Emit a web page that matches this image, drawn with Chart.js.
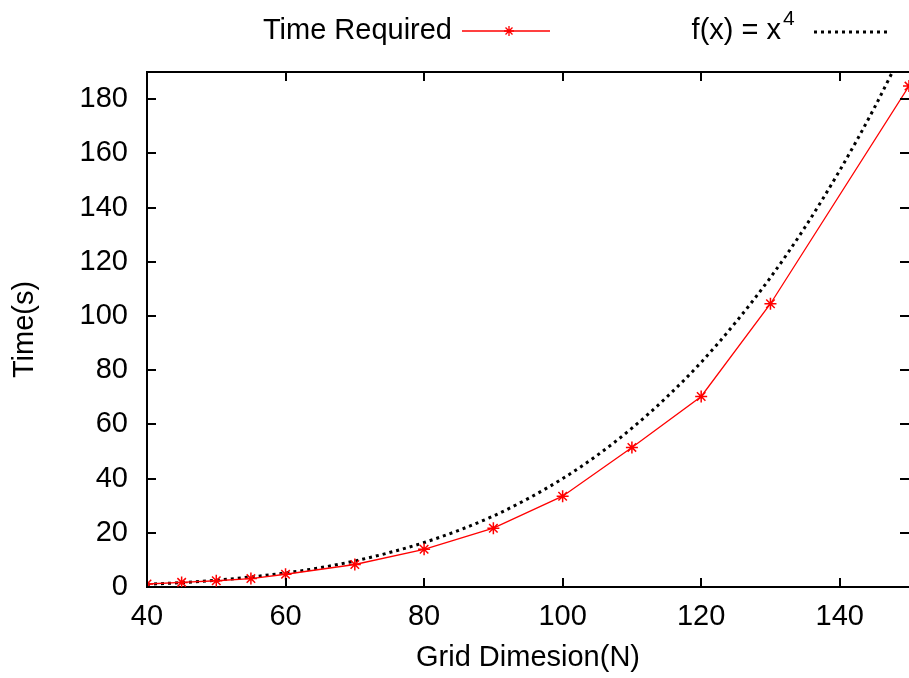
<!DOCTYPE html>
<html lang="en">
<head>
    <meta charset="UTF-8">
    <title>Time Required vs Grid Dimension</title>
    <script src="https://cdn.jsdelivr.net/npm/chart.js"></script>
    <style>
        html, body { margin: 0; padding: 0; background: #fff; }
        #wrap { width: 909px; height: 678px; }
    </style>
</head>
<body>
<div id="wrap"><canvas id="timeChart" width="909" height="678"></canvas></div>
<script>
    // measured run times
    const gridSizes = [40, 45, 50, 55, 60, 70, 80, 90, 100, 110, 120, 130, 150];
    const timeRequired = [1.1, 1.7, 2.3, 3.1, 4.7, 8.3, 13.9, 21.7, 33.5, 51.5, 70.3, 104.5, 184.8];

    // reference curve f(x) = x^4 (scaled)
    const refX = [40, 45, 50, 55, 60, 65, 70, 75, 80, 85, 90, 95, 100, 105, 110, 115, 120, 125, 130, 135, 140, 145, 150];
    const refY = [1.0, 1.6, 2.5, 3.7, 5.2, 7.1, 9.6, 12.7, 16.4, 20.9, 26.2, 32.6, 40.0, 48.6, 58.6, 70.0, 82.9, 97.7, 114.2, 132.8, 153.7, 176.8, 202.5];

    const xTicks = [40, 60, 80, 100, 120, 140];
    const yTicks = [0, 20, 40, 60, 80, 100, 120, 140, 160, 180];

    const FONT = '"Liberation Sans", Arial, Helvetica, sans-serif';
    const FS = 29;

    // gnuplot-like frame: top border plus inward ticks on all sides
    // (the right border itself falls just off the canvas)
    const framePlugin = {
        id: 'frame',
        afterDraw(chart) {
            const ctx = chart.ctx;
            const a = chart.chartArea;
            const xs = chart.scales.x, ys = chart.scales.y;
            const len = 9;
            ctx.save();
            ctx.strokeStyle = '#000';
            ctx.lineWidth = 2;
            ctx.beginPath();
            ctx.moveTo(a.left, a.top); ctx.lineTo(a.right, a.top);
            xTicks.forEach(v => {
                const px = Math.round(xs.getPixelForValue(v));
                ctx.moveTo(px, a.bottom); ctx.lineTo(px, a.bottom - len);
                ctx.moveTo(px, a.top); ctx.lineTo(px, a.top + len);
            });
            yTicks.forEach(v => {
                const py = Math.round(ys.getPixelForValue(v));
                ctx.moveTo(a.left, py); ctx.lineTo(a.left + len, py);
                ctx.moveTo(a.right, py); ctx.lineTo(a.right - len, py);
            });
            ctx.stroke();
            ctx.restore();
        }
    };

    // key drawn gnuplot style: text first, sample after it
    const keyPlugin = {
        id: 'key',
        afterDraw(chart) {
            const ctx = chart.ctx;
            const y = 31;
            ctx.save();
            ctx.fillStyle = '#000';
            ctx.font = FS + 'px ' + FONT;
            ctx.textBaseline = 'middle';
            ctx.textAlign = 'right';
            ctx.fillText('Time Required', 452, y);

            ctx.strokeStyle = '#ff0000';
            ctx.lineWidth = 1.3;
            ctx.beginPath();
            ctx.moveTo(462, y); ctx.lineTo(550, y);
            ctx.stroke();
            const sx = 509, r = 5;
            ctx.beginPath();
            ctx.moveTo(sx - r, y); ctx.lineTo(sx + r, y);
            ctx.moveTo(sx, y - r); ctx.lineTo(sx, y + r);
            ctx.moveTo(sx - r * 0.7, y - r * 0.7); ctx.lineTo(sx + r * 0.7, y + r * 0.7);
            ctx.moveTo(sx - r * 0.7, y + r * 0.7); ctx.lineTo(sx + r * 0.7, y - r * 0.7);
            ctx.stroke();

            ctx.fillStyle = '#000';
            ctx.font = '21px ' + FONT;
            ctx.textAlign = 'left';
            ctx.fillText('4', 783, y - 12);
            ctx.font = FS + 'px ' + FONT;
            ctx.textAlign = 'right';
            ctx.fillText('f(x) = x', 781, y);

            ctx.strokeStyle = '#000';
            ctx.lineWidth = 3;
            ctx.setLineDash([3, 4]);
            ctx.beginPath();
            ctx.moveTo(814, y + 1); ctx.lineTo(890, y + 1);
            ctx.stroke();
            ctx.restore();
        }
    };

    const ctx = document.getElementById('timeChart').getContext('2d');
    new Chart(ctx, {
        type: 'line',
        data: {
            datasets: [
                {
                    label: 'Time Required',
                    data: gridSizes.map((x, i) => ({ x: x, y: timeRequired[i] })),
                    borderColor: '#ff0000',
                    backgroundColor: '#ff0000',
                    borderWidth: 1.3,
                    pointStyle: 'star',
                    pointRadius: 6,
                    pointBorderWidth: 1.5,
                    pointBorderColor: '#ff0000',
                    fill: false,
                    tension: 0
                },
                {
                    label: 'f(x) = x^4',
                    data: refX.map((x, i) => ({ x: x, y: refY[i] })),
                    borderColor: '#000',
                    borderWidth: 3,
                    borderDash: [3, 4],
                    pointRadius: 0,
                    fill: false,
                    cubicInterpolationMode: 'monotone'
                }
            ]
        },
        options: {
            responsive: false,
            animation: false,
            layout: { autoPadding: false, padding: { top: 72, right: 0, left: 0, bottom: 0 } },
            plugins: {
                legend: { display: false },
                tooltip: { enabled: false }
            },
            scales: {
                x: {
                    type: 'linear',
                    min: 40,
                    max: 150,
                    afterBuildTicks: s => { s.ticks = xTicks.map(v => ({ value: v })); },
                    afterFit: s => { s.height = 91; s.paddingLeft = 0; s.paddingRight = 0; },
                    grid: { display: false, drawTicks: false },
                    border: { display: true, color: '#000', width: 2 },
                    ticks: { color: '#000', padding: 13, maxRotation: 0, font: { family: FONT, size: FS } },
                    title: { display: true, text: 'Grid Dimesion(N)', color: '#000', padding: { top: 0, bottom: 3 }, font: { family: FONT, size: FS } }
                },
                y: {
                    min: 0,
                    max: 190,
                    afterBuildTicks: s => { s.ticks = yTicks.map(v => ({ value: v })); },
                    afterFit: s => { s.width = 147; s.paddingTop = 0; s.paddingBottom = 0; },
                    grid: { display: false, drawTicks: false },
                    border: { display: true, color: '#000', width: 2 },
                    ticks: { color: '#000', padding: 19, font: { family: FONT, size: FS } },
                    title: { display: true, text: 'Time(s)', color: '#000', padding: { top: 8, bottom: 0 }, font: { family: FONT, size: FS } }
                }
            }
        },
        plugins: [framePlugin, keyPlugin]
    });
</script>
</body>
</html>
